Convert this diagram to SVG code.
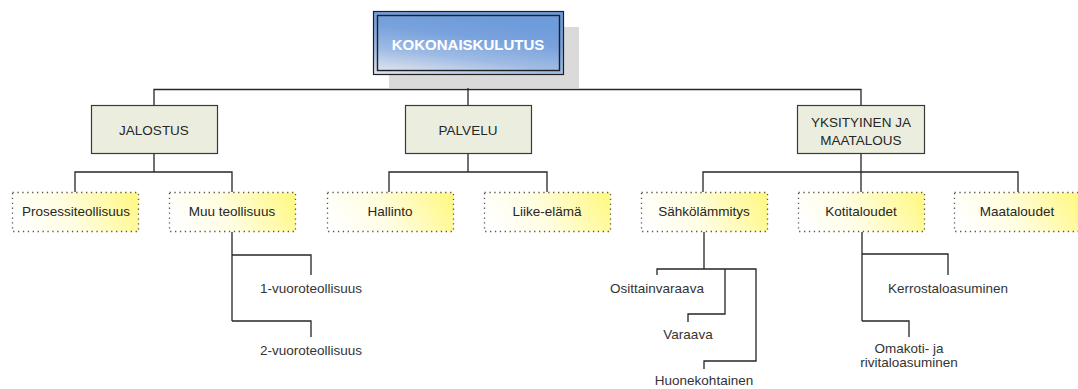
<svg xmlns="http://www.w3.org/2000/svg" width="1078" height="389" viewBox="0 0 1078 389">
<style>
.conn{fill:none;stroke:#262626;stroke-width:1.3}
.l1{fill:#ebeedf;stroke:#3a3a3a;stroke-width:1.2}
.l2{fill:url(#yel);stroke:#555;stroke-width:1.3;stroke-dasharray:1.3 3.6}
.t1{font-family:"Liberation Sans",Arial,sans-serif;font-size:13.5px;fill:#262626;text-anchor:middle}
.t2{font-family:"Liberation Sans",Arial,sans-serif;font-size:13.5px;fill:#262626;text-anchor:middle}
.t3{font-family:"Liberation Sans",Arial,sans-serif;font-size:13.5px;fill:#333;text-anchor:middle}
.top{font-family:"Liberation Sans",Arial,sans-serif;font-size:15px;font-weight:bold;fill:#fff;text-anchor:middle}
</style>
<defs>
<linearGradient id="blue" x1="0" y1="1" x2="0.4" y2="0">
<stop offset="0" stop-color="#dfe4ee"/>
<stop offset="0.35" stop-color="#9fbbe4"/>
<stop offset="0.7" stop-color="#7aa3dd"/>
<stop offset="1" stop-color="#6e9bda"/>
</linearGradient>
<linearGradient id="yel" x1="0" y1="0.6" x2="1" y2="0.4">
<stop offset="0" stop-color="#ffffff"/>
<stop offset="0.45" stop-color="#fffde0"/>
<stop offset="1" stop-color="#fff98a"/>
</linearGradient>
</defs>
<rect width="1078" height="389" fill="#fff"/>
<g id="connectors">
<path class="conn" d="M468 74V89.5M154 105V89.5H861V105M468 89.5V105"/>
<path class="conn" d="M154 153V172M75 192V172H232V192"/>
<path class="conn" d="M468 153V172M389 192V172H547V192"/>
<path class="conn" d="M861 153V172M703 192V172H1018V192M861 172V192"/>
<path class="conn" d="M232 232V321M232 255H311V275M232 321H311V337"/>
<path class="conn" d="M704 232V269M657 275V269H756V361H704V369M725 269V314H688V322"/>
<path class="conn" d="M862 232V321M862 254H948V275M862 321H909V337"/>
</g>
<g id="kokonaiskulutus">
<rect x="389" y="27" width="190" height="61" fill="#dadada"/>
<rect x="373.5" y="11.5" width="190" height="63" fill="url(#blue)" stroke="#1f1f1f" stroke-width="1.2"/>
<rect x="377.5" y="15.5" width="182" height="55" fill="url(#blue)" stroke="#1f1f1f" stroke-width="1.4"/>
<text class="top" x="468" y="50">KOKONAISKULUTUS</text>
</g>
<g id="jalostus">
<rect class="l1" x="91.5" y="105.5" width="126" height="48"/>
<text class="t1" x="154" y="135">JALOSTUS</text>
</g>
<g id="palvelu">
<rect class="l1" x="405.5" y="105.5" width="126" height="48"/>
<text class="t1" x="468" y="135">PALVELU</text>
</g>
<g id="yksityinen">
<rect class="l1" x="797.5" y="105.5" width="127" height="48"/>
<text class="t1" x="861" y="127">YKSITYINEN JA</text>
<text class="t1" x="861" y="145">MAATALOUS</text>
</g>
<g id="prosessiteollisuus">
<rect class="l2" x="12.5" y="192.5" width="126" height="39"/>
<text class="t2" x="76" y="216">Prosessiteollisuus</text>
</g>
<g id="muuteollisuus">
<rect class="l2" x="169.5" y="192.5" width="126" height="39"/>
<text class="t2" x="232" y="216">Muu teollisuus</text>
</g>
<g id="hallinto">
<rect class="l2" x="327.5" y="192.5" width="126" height="39"/>
<text class="t2" x="390" y="216">Hallinto</text>
</g>
<g id="liike-elama">
<rect class="l2" x="484.5" y="192.5" width="126" height="39"/>
<text class="t2" x="547" y="216">Liike-elämä</text>
</g>
<g id="sahkolammitys">
<rect class="l2" x="641.5" y="192.5" width="126" height="39"/>
<text class="t2" x="704" y="216">Sähkölämmitys</text>
</g>
<g id="kotitaloudet">
<rect class="l2" x="798.5" y="192.5" width="126" height="39"/>
<text class="t2" x="861" y="216">Kotitaloudet</text>
</g>
<g id="maataloudet">
<rect class="l2" x="954.5" y="192.5" width="126" height="39"/>
<text class="t2" x="1017" y="216">Maataloudet</text>
</g>
<g id="vuoro1"><text class="t3" x="311" y="293">1-vuoroteollisuus</text></g>
<g id="vuoro2"><text class="t3" x="311" y="355">2-vuoroteollisuus</text></g>
<g id="osittainvaraava"><text class="t3" x="657" y="293">Osittainvaraava</text></g>
<g id="varaava"><text class="t3" x="688" y="339">Varaava</text></g>
<g id="huonekohtainen"><text class="t3" x="704" y="385">Huonekohtainen</text></g>
<g id="kerrostalo"><text class="t3" x="948" y="293">Kerrostaloasuminen</text></g>
<g id="omakoti"><text class="t3" x="909" y="353">Omakoti- ja</text><text class="t3" x="909" y="367">rivitaloasuminen</text></g>
</svg>
